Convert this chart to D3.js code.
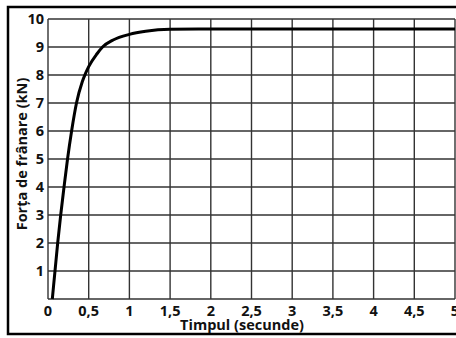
<!DOCTYPE html>
<html>
<head>
<meta charset="utf-8">
<script src="https://cdnjs.cloudflare.com/ajax/libs/d3/7.8.5/d3.min.js"></script>
<style>
  body { margin: 0; background: #fff; }
  svg { display: block; }
  text { font-family: "Open Sans", "DejaVu Sans", sans-serif; font-weight: bold; fill: #111; }
</style>
</head>
<body>
<svg width="456" height="338"></svg>
<script>
const times = [0.053, 0.086, 0.119, 0.156, 0.197, 0.24, 0.29, 0.35, 0.42, 0.46, 0.5, 0.6, 0.67, 0.8, 1.0, 1.2, 1.5, 2.0, 3.0, 4.0, 5.0];
const force = [0, 1, 2, 3, 4, 5, 6, 7, 7.75, 8.05, 8.3, 8.75, 9.0, 9.25, 9.45, 9.56, 9.63, 9.64, 9.64, 9.64, 9.64];
const xTicks = [0, 0.5, 1, 1.5, 2, 2.5, 3, 3.5, 4, 4.5, 5];
const yTicks = [1, 2, 3, 4, 5, 6, 7, 8, 9, 10];

const svg = d3.select("svg");

const x = d3.scaleLinear().domain([0, 5]).range([48, 455]);
const y = d3.scaleLinear().domain([0, 10]).range([299, 19]);

// outer frame
svg.append("rect")
   .attr("x", 8).attr("y", 7)
   .attr("width", 460).attr("height", 327)
   .attr("fill", "none")
   .attr("stroke", "#000")
   .attr("stroke-width", 2.5);

const fmt = d => String(d).replace(".", ",");

// grid
const grid = svg.append("g").attr("stroke", "#333").attr("stroke-width", 1.4);
grid.selectAll(".v").data(xTicks).join("line")
    .attr("x1", d => x(d)).attr("x2", d => x(d))
    .attr("y1", y(0)).attr("y2", y(10));
grid.selectAll(".h").data([0].concat(yTicks)).join("line")
    .attr("y1", d => y(d)).attr("y2", d => y(d))
    .attr("x1", x(0)).attr("x2", x(5));

// tick labels
svg.append("g").selectAll("text").data(xTicks).join("text")
   .attr("x", d => x(d)).attr("y", 316)
   .attr("text-anchor", "middle")
   .attr("font-size", 14.5)
   .text(fmt);

svg.append("g").selectAll("text").data(yTicks).join("text")
   .attr("x", 44).attr("y", d => y(d) + 5)
   .attr("text-anchor", "end")
   .attr("font-size", 14.5)
   .text(fmt);

// axis titles
svg.append("text")
   .attr("x", 242).attr("y", 330)
   .attr("text-anchor", "middle")
   .attr("font-size", 14.5)
   .text("Timpul (secunde)");

svg.append("text")
   .attr("transform", "translate(27,154) rotate(-90)")
   .attr("text-anchor", "middle")
   .attr("font-size", 14.5)
   .text("Forța de frânare (kN)");

// curve
const line = d3.line()
    .x((d, i) => x(times[i]))
    .y(d => y(d))
    .curve(d3.curveMonotoneX);

svg.append("path")
   .datum(force)
   .attr("d", line)
   .attr("fill", "none")
   .attr("stroke", "#000")
   .attr("stroke-width", 3);
</script>
</body>
</html>
